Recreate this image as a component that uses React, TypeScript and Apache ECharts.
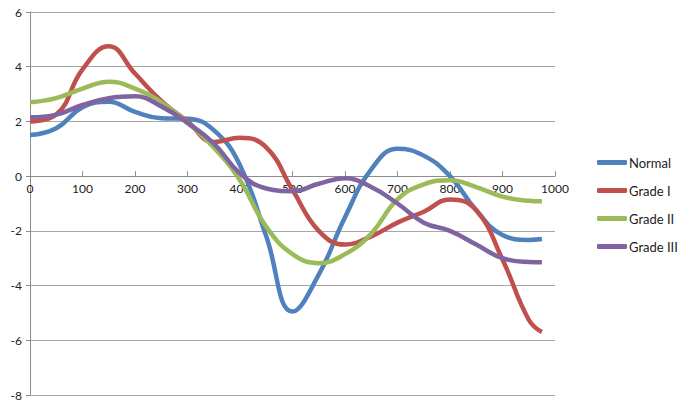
import React, { useEffect, useRef } from "react";
import * as echarts from "echarts";

const xValues = [0, 50, 100, 150, 200, 250, 300, 350, 400, 450, 500, 550, 600, 650, 700, 750, 800, 850, 900, 950, 975];
const normal = [1.5, 1.75, 2.52, 2.72, 2.35, 2.12, 2.1, 1.68, 0.4, -2.2, -4.95, -3.6, -1.5, 0.25, 1.0, 0.75, 0.0, -1.25, -2.15, -2.33, -2.3];
const gradeI = [2.0, 2.25, 3.9, 4.75, 3.75, 2.75, 2.0, 1.25, 1.4, 1.05, -0.5, -2.0, -2.5, -2.2, -1.7, -1.3, -0.85, -1.25, -3.05, -5.25, -5.7];
const gradeII = [2.7, 2.85, 3.2, 3.45, 3.2, 2.7, 1.95, 1.05, -0.15, -1.85, -2.85, -3.18, -2.85, -2.1, -0.85, -0.3, -0.15, -0.4, -0.75, -0.9, -0.92];
const gradeIII = [2.15, 2.25, 2.6, 2.85, 2.92, 2.55, 1.95, 1.2, 0.1, -0.45, -0.55, -0.28, -0.08, -0.4, -1.0, -1.7, -2.0, -2.5, -3.0, -3.14, -3.15];

const seriesNames = ["Normal", "Grade I", "Grade II", "Grade III"];
const seriesValues = [normal, gradeI, gradeII, gradeIII];
const colors = ["#4F81BD", "#C0504D", "#9BBB59", "#8064A2"];

const yMin = -8;
const yMax = 6;
const gridTop = 12;
const gridBottom = 12;
const chartHeight = 407;

export default function App() {
  const ref = useRef<HTMLDivElement>(null);
  useEffect(() => {
    if (!ref.current) return;
    const chart = echarts.init(ref.current, null, { renderer: "svg" });
    const font = "Lato, 'Open Sans', sans-serif";
    const plotH = chartHeight - gridTop - gridBottom;
    const zeroOffset = -(plotH * (0 - yMin)) / (yMax - yMin);
    chart.setOption({
      animation: false,
      backgroundColor: "#ffffff",
      color: colors,
      grid: { left: 30, right: 130, top: gridTop, bottom: gridBottom, containLabel: false },
      legend: {
        orient: "vertical",
        left: 592,
        top: 151,
        itemWidth: 30,
        itemHeight: 5,
        itemGap: 15,
        icon: "roundRect",
        textStyle: { fontFamily: font, fontSize: 13, color: "#222", padding: [0, 0, 0, -3] },
        data: seriesNames,
      },
      xAxis: {
        type: "value",
        position: "bottom",
        offset: zeroOffset,
        min: 0,
        max: 1000,
        interval: 100,
        axisLine: { show: true, onZero: false, lineStyle: { color: "#8c8c8c", width: 1 } },
        axisTick: { show: true, inside: true, length: 5, lineStyle: { color: "#8c8c8c" } },
        axisLabel: {
          fontFamily: font,
          fontSize: 12,
          color: "#222",
          margin: 6,
          formatter: (v: number) => String(v),
        },
        splitLine: { show: false },
      },
      yAxis: {
        type: "value",
        min: yMin,
        max: yMax,
        interval: 2,
        axisLine: { show: true, onZero: false, lineStyle: { color: "#8c8c8c", width: 1 } },
        axisTick: { show: true, length: 4, lineStyle: { color: "#8c8c8c" } },
        axisLabel: { fontFamily: font, fontSize: 12, color: "#222", margin: 8 },
        splitLine: { show: true, lineStyle: { color: "#a6a6a6", width: 1 } },
      },
      series: seriesNames.map((name, i) => ({
        name,
        type: "line",
        smooth: 0.45,
        showSymbol: false,
        symbol: "none",
        lineStyle: { width: 4.5, color: colors[i] },
        itemStyle: { color: colors[i] },
        data: xValues.map((x, j) => [x, seriesValues[i][j]]),
      })),
    });
    return () => chart.dispose();
  }, []);
  return (
    <div
      ref={ref}
      style={{ position: "fixed", left: 0, top: 0, width: 685, height: 407 }}
    />
  );
}
